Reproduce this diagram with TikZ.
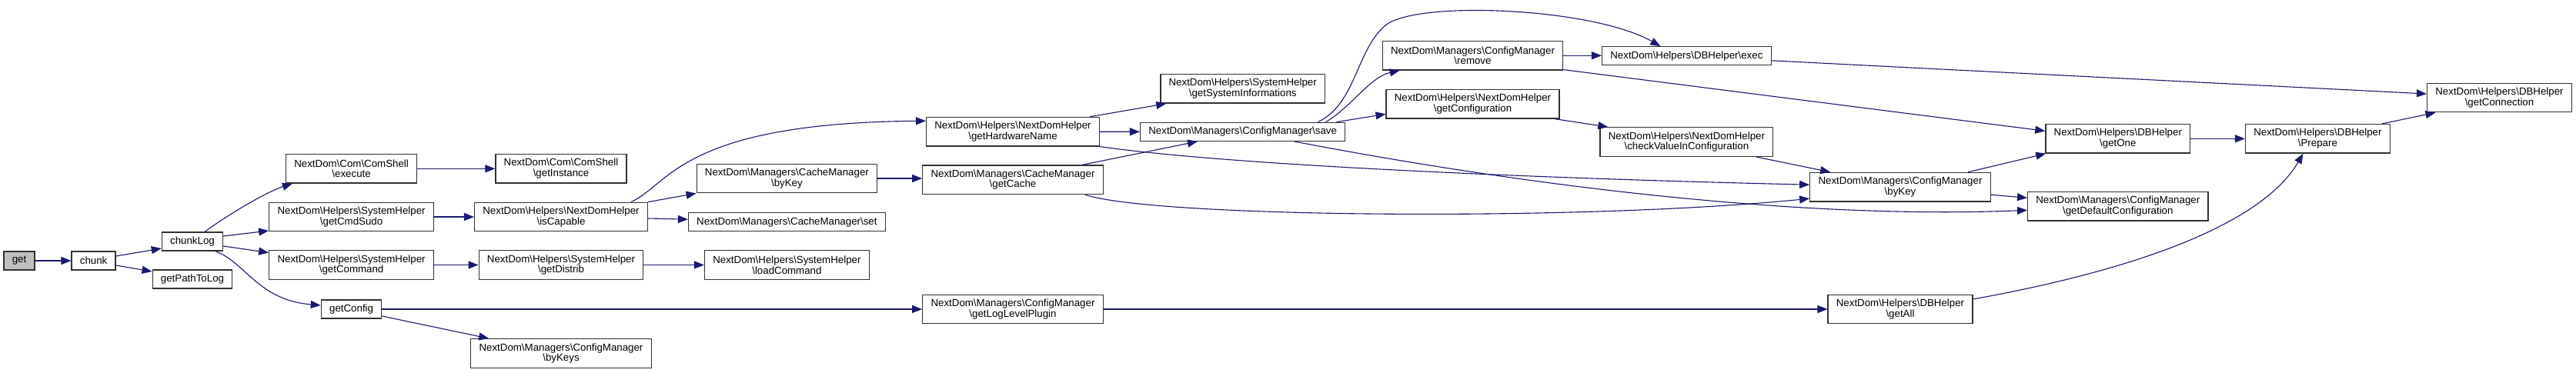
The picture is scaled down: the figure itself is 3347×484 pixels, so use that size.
\documentclass[tikz,border=0pt]{standalone}
\usepackage{fontspec}
\setmainfont{Liberation Sans}
\usetikzlibrary{arrows.meta,calc}
\definecolor{edgeblue}{RGB}{25,25,112}
\definecolor{boxline}{RGB}{50,50,50}
\newcommand{\bsl}{\textbackslash}
\newcommand{\gfont}{\fontsize{6.65pt}{6.75pt}\selectfont}
\tikzset{
  fn/.style={draw=boxline, fill=white, line width=0.65pt, inner xsep=5.375pt, inner ysep=0pt,
    align=center, font=\gfont, minimum height=12pt},
  fntwo/.style={fn, minimum height=18.75pt},
  rootfn/.style={fn, fill=black!25},
  edge/.style={draw=edgeblue, line width=0.55pt, -{Triangle[length=6.5pt,width=5pt]}},
}
\begin{document}
\begin{tikzpicture}[x=0.5pt,y=-0.5pt]
\useasboundingbox (0,0) rectangle (3347,484);
\fill[white] (0,0) rectangle (3347,484);
% nodes
\node[rootfn] (get) at (25,339) {get};
\node[fn] (chunk) at (121.6,339) {chunk};
\node[fn] (chunkLog) at (250,314) {chunkLog};
\node[fn] (getPathToLog) at (250,363) {getPathToLog};
\node[fntwo] (execute) at (456.6,219.3) {NextDom\bsl Com\bsl ComShell\\\bsl execute};
\node[fntwo] (getCmdSudo) at (456.6,282) {NextDom\bsl Helpers\bsl SystemHelper\\\bsl getCmdSudo};
\node[fntwo] (getCommand) at (456.6,344.5) {NextDom\bsl Helpers\bsl SystemHelper\\\bsl getCommand};
\node[fn] (getConfig) at (456.6,402) {getConfig};
\node[fntwo] (getInstance) at (729,219.3) {NextDom\bsl Com\bsl ComShell\\\bsl getInstance};
\node[fntwo] (isCapable) at (729,282) {NextDom\bsl Helpers\bsl NextDomHelper\\\bsl isCapable};
\node[fntwo] (getDistrib) at (729,344.5) {NextDom\bsl Helpers\bsl SystemHelper\\\bsl getDistrib};
\node[fntwo] (byKeys) at (729,459.5) {NextDom\bsl Managers\bsl ConfigManager\\\bsl byKeys};
\node[fntwo] (CMbyKey) at (1022.4,232) {NextDom\bsl Managers\bsl CacheManager\\\bsl byKey};
\node[fn] (CMset) at (1022.4,288.7) {NextDom\bsl Managers\bsl CacheManager\bsl set};
\node[fntwo] (loadCommand) at (1022.4,344.5) {NextDom\bsl Helpers\bsl SystemHelper\\\bsl loadCommand};
\node[fntwo] (getHardwareName) at (1316,171.2) {NextDom\bsl Helpers\bsl NextDomHelper\\\bsl getHardwareName};
\node[fntwo] (getCache) at (1316,233.8) {NextDom\bsl Managers\bsl CacheManager\\\bsl getCache};
\node[fntwo] (getLogLevelPlugin) at (1316,402) {NextDom\bsl Managers\bsl ConfigManager\\\bsl getLogLevelPlugin};
\node[fntwo] (getSysInfo) at (1614.7,115.3) {NextDom\bsl Helpers\bsl SystemHelper\\\bsl getSystemInformations};
\node[fn] (save) at (1614.7,171.3) {NextDom\bsl Managers\bsl ConfigManager\bsl save};
\node[fntwo] (remove) at (1913.5,72.2) {NextDom\bsl Managers\bsl ConfigManager\\\bsl remove};
\node[fntwo] (getConfiguration) at (1913.5,135.3) {NextDom\bsl Helpers\bsl NextDomHelper\\\bsl getConfiguration};
\node[fn] (exec) at (2191.4,72.8) {NextDom\bsl Helpers\bsl DBHelper\bsl exec};
\node[fntwo] (checkValue) at (2191.4,184.5) {NextDom\bsl Helpers\bsl NextDomHelper\\\bsl checkValueInConfiguration};
\node[fntwo] (CfgbyKey) at (2469,243.2) {NextDom\bsl Managers\bsl ConfigManager\\\bsl byKey};
\node[fntwo] (getAll) at (2469,402) {NextDom\bsl Helpers\bsl DBHelper\\\bsl getAll};
\node[fntwo] (getOne) at (2751.8,180.3) {NextDom\bsl Helpers\bsl DBHelper\\\bsl getOne};
\node[fntwo] (getDefConf) at (2751.8,268.3) {NextDom\bsl Managers\bsl ConfigManager\\\bsl getDefaultConfiguration};
\node[fntwo] (Prepare) at (3011.4,180.3) {NextDom\bsl Helpers\bsl DBHelper\\\bsl Prepare};
\node[fntwo] (getConnection) at (3247.5,127) {NextDom\bsl Helpers\bsl DBHelper\\\bsl getConnection};
% edges
\draw[edge] (get.east) -- (chunk.west);
\draw[edge] ($(chunk.east)+(0,-6)$) -- ($(chunkLog.west)+(0,9)$);
\draw[edge] ($(chunk.east)+(0,6)$) -- ($(getPathToLog.west)+(0,-10)$);
\draw[edge] ($(chunkLog.north)+(16,0)$) .. controls (295,280) and (345,250) .. ($(execute.south west)+(9,0)$);
\draw[edge] ($(chunkLog.east)+(0,-7)$) -- ($(getCmdSudo.west)+(0,18)$);
\draw[edge] ($(chunkLog.east)+(0,6)$) -- ($(getCommand.west)+(0,-16)$);
\draw[edge] ($(chunkLog.south)+(30,0)$) .. controls (320,342) and (335,390) .. ($(getConfig.west)+(0,-5)$);
\draw[edge] (execute.east) -- (getInstance.west);
\draw[edge] (getCmdSudo.east) -- (isCapable.west);
\draw[edge] (getCommand.east) -- (getDistrib.west);
\draw[edge] (getDistrib.east) -- (loadCommand.west);
\draw[edge] (getConfig.east) -- (getLogLevelPlugin.west);
\draw[edge] ($(getConfig.east)+(0,9)$) -- ($(byKeys.north west)+(24,0)$);
\draw[edge] ($(isCapable.north east)+(-22,0)$) .. controls (870,240) and (885,160) .. ($(getHardwareName.west)+(0,-14)$);
\draw[edge] (isCapable.north east) -- (CMbyKey.south west);
\draw[edge] ($(isCapable.east)+(0,2)$) -- ($(CMset.west)+(0,-3.5)$);
\draw[edge] (CMbyKey.east) -- (CMbyKey.east -| getCache.west);
\draw[edge] ($(getHardwareName.north east)+(-13,0)$) -- ($(getSysInfo.south west)+(8,0)$);
\draw[edge] (getHardwareName.east) -- (save.west);
\draw[edge] (getHardwareName.south east) .. controls (1600,215) and (2000,232) .. ($(CfgbyKey.west)+(0,-3)$);
\draw[edge] ($(getCache.north east)+(-28,0)$) -- ($(save.south west)+(75,0)$);
\draw[edge] ($(getCache.south east)+(-24,0)$) .. controls (1500,283) and (2050,288) .. ($(CfgbyKey.west)+(0,15)$);
\coordinate (saveexecmid) at (1800,33);
\draw[edge] ($(save.north east)+(-36,0)$) .. controls (1762,135) and (1762,65) .. (saveexecmid)
   .. controls (1840,0) and (2070,10) .. ($(exec.north)+(-34,0)$);
\draw[edge] ($(save.north east)+(-26,0)$) .. controls (1755,140) and (1780,100) .. ($(remove.south west)+(23,0)$);
\draw[edge] ($(save.north east)+(-12,0)$) -- ($(getConfiguration.west)+(0,13)$);
\draw[edge] ($(save.south)+(67,0)$) .. controls (2000,245) and (2350,285) .. ($(getDefConf.west)+(0,5)$);
\draw[edge] (remove.east) -- (remove.east -| exec.west);
\draw[edge] ($(remove.south east)+(0,-1)$) -- ($(getOne.west)+(0,-10)$);
\draw[edge] ($(exec.east)+(0,6)$) -- ($(getConnection.west)+(0,-5)$);
\draw[edge] ($(getConfiguration.south east)+(-6,0)$) -- ($(checkValue.north west)+(11,0)$);
\draw[edge] ($(checkValue.south east)+(-23,0)$) -- ($(CfgbyKey.north west)+(27,0)$);
\draw[edge] ($(CfgbyKey.north east)+(-30,0)$) -- ($(getOne.south west)+(1,0)$);
\draw[edge] ($(CfgbyKey.east)+(0,10)$) -- ($(getDefConf.west)+(0,-11)$);
\draw[edge] (getOne.east) -- (Prepare.west);
\draw[edge] ($(Prepare.north east)+(-11,0)$) -- ($(getConnection.south west)+(11.5,0)$);
\draw[edge] (getLogLevelPlugin.east) -- (getAll.west);
\draw[edge] ($(getAll.east)+(0,-13)$) .. controls (2780,350) and (2940,290) .. ($(Prepare.south)+(-19,0)$);
\end{tikzpicture}
\end{document}
